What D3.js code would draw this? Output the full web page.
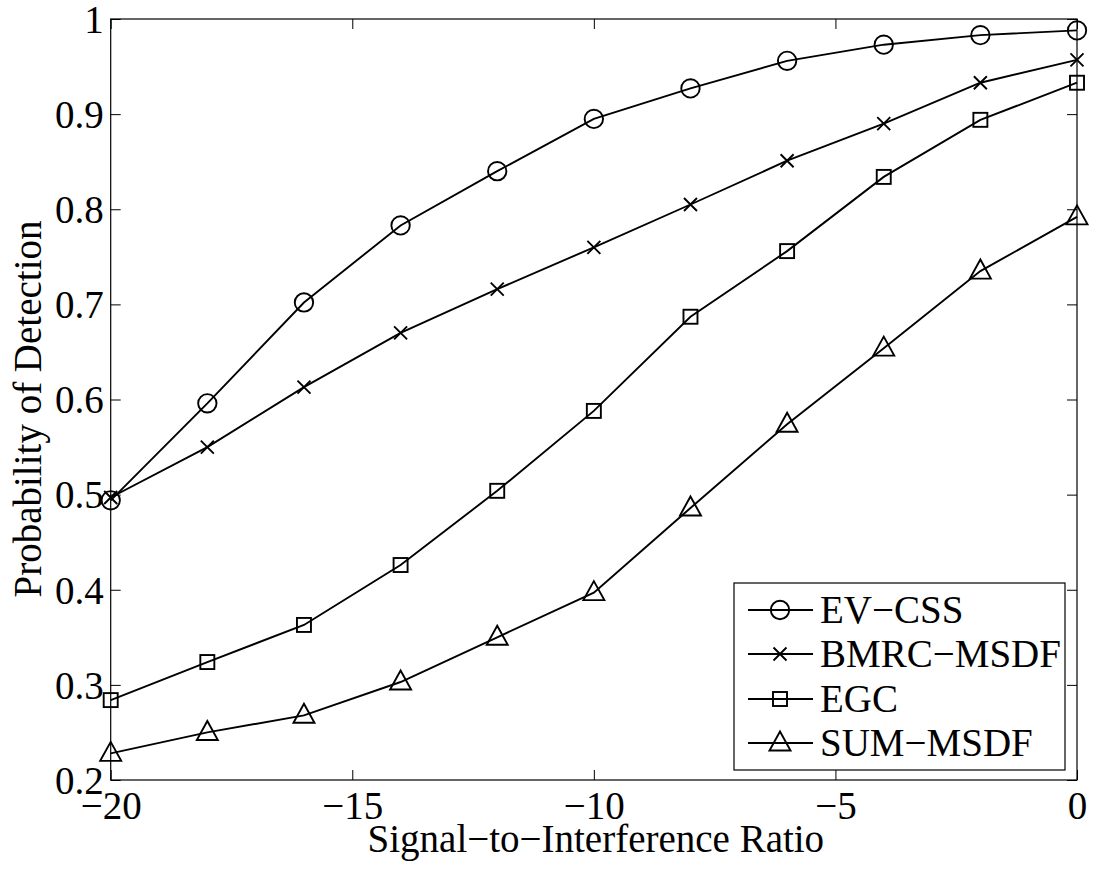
<!DOCTYPE html>
<html>
<head>
<meta charset="utf-8">
<script src="https://cdn.jsdelivr.net/npm/d3@7"></script>
<style>
  html, body { margin: 0; padding: 0; background: #fff; }
  svg { display: block; }
  svg text { font-family: "Liberation Serif", "Times New Roman", Times, "DejaVu Serif", serif; fill: #000; }
</style>
</head>
<body>
<svg id="chart" width="1097" height="870"></svg>
<script>
// Signal-to-interference ratio sample points
const sirValues = [-20, -18, -16, -14, -12, -10, -8, -6, -4, -2, 0];

// Probability of detection for each scheme
const evCss    = [0.494, 0.596, 0.702, 0.783, 0.840, 0.895, 0.927, 0.956, 0.973, 0.983, 0.988];
const bmrcMsdf = [0.497, 0.550, 0.613, 0.670, 0.716, 0.760, 0.805, 0.851, 0.890, 0.933, 0.957];
const egc      = [0.284, 0.324, 0.363, 0.426, 0.504, 0.588, 0.687, 0.756, 0.834, 0.894, 0.933];
const sumMsdf  = [0.228, 0.250, 0.268, 0.303, 0.350, 0.397, 0.486, 0.574, 0.654, 0.735, 0.792];

const seriesNames = ["EV\u2212CSS", "BMRC\u2212MSDF", "EGC", "SUM\u2212MSDF"];
const seriesMarkers = ["circle", "cross", "square", "triangle"];

const xTickValues = [-20, -15, -10, -5, 0];
const xTickLabels = ["\u221220", "\u221215", "\u221210", "\u22125", "0"];
const yTickValues = [0.2, 0.3, 0.4, 0.5, 0.6, 0.7, 0.8, 0.9, 1.0];
const yTickLabels = ["0.2", "0.3", "0.4", "0.5", "0.6", "0.7", "0.8", "0.9", "1"];

const xLabel = "Signal\u2212to\u2212Interference Ratio";
const yLabel = "Probability of Detection";

const series = [evCss, bmrcMsdf, egc, sumMsdf].map((vals, i) => ({
  name: seriesNames[i],
  marker: seriesMarkers[i],
  points: vals.map((v, j) => ({ x: sirValues[j], y: v }))
}));

const svg = d3.select("#chart");
const plotLeft = 110.7, plotRight = 1077, plotTop = 19, plotBottom = 780;
const fontSize = 39;
const fontFamily = '"Liberation Serif", "Times New Roman", Times, "DejaVu Serif", serif';

const x = d3.scaleLinear().domain([-20, 0]).range([plotLeft, plotRight]);
const y = d3.scaleLinear().domain([0.2, 1]).range([plotBottom, plotTop]);

// Axes with inward ticks on all four sides
const tickLen = 10;
const gx = svg.append("g").attr("transform", `translate(0,${plotBottom})`)
  .call(d3.axisBottom(x).tickValues(xTickValues)
    .tickFormat((d, i) => xTickLabels[i])
    .tickSize(-tickLen).tickPadding(11));
const gy = svg.append("g").attr("transform", `translate(${plotLeft},0)`)
  .call(d3.axisLeft(y).tickValues(yTickValues)
    .tickFormat((d, i) => yTickLabels[i])
    .tickSize(-tickLen).tickPadding(7));
const gxTop = svg.append("g").attr("transform", `translate(0,${plotTop})`)
  .call(d3.axisTop(x).tickValues(xTickValues).tickFormat("").tickSize(-tickLen));
const gyRight = svg.append("g").attr("transform", `translate(${plotRight},0)`)
  .call(d3.axisRight(y).tickValues(yTickValues).tickFormat("").tickSize(-tickLen));

[gx, gy, gxTop, gyRight].forEach(g => {
  g.attr("font-family", null).attr("font-size", null);
  g.select(".domain").remove();
  g.selectAll(".tick line").attr("stroke", "#000").attr("stroke-width", 1);
  g.selectAll("text").style("font-size", fontSize + "px")
    .style("font-family", fontFamily).attr("fill", "#000");
});
gy.selectAll("text").attr("dy", "0.34em");

// Plot frame
svg.append("rect")
  .attr("x", plotLeft).attr("y", plotTop)
  .attr("width", plotRight - plotLeft).attr("height", plotBottom - plotTop)
  .attr("fill", "none").attr("stroke", "#000").attr("stroke-width", 1.2);

// Axis titles
svg.append("text")
  .attr("x", (plotLeft + plotRight) / 2 + 2).attr("y", 852)
  .attr("text-anchor", "middle")
  .style("font-size", fontSize + "px").style("font-family", fontFamily)
  .text(xLabel);
svg.append("text")
  .attr("transform", `translate(41,409) rotate(-90)`)
  .attr("text-anchor", "middle")
  .style("font-size", fontSize + "px").style("font-family", fontFamily)
  .text(yLabel);

// Marker drawing
function drawMarker(g, type, cx, cy) {
  const sw = 1.9;
  if (type === "circle") {
    g.append("circle").attr("cx", cx).attr("cy", cy).attr("r", 9.2)
      .attr("fill", "none").attr("stroke", "#000").attr("stroke-width", sw);
  } else if (type === "square") {
    const s = 14;
    g.append("rect").attr("x", cx - s / 2).attr("y", cy - s / 2)
      .attr("width", s).attr("height", s)
      .attr("fill", "none").attr("stroke", "#000").attr("stroke-width", sw);
  } else if (type === "cross") {
    const h = 6.5;
    g.append("path")
      .attr("d", `M${cx - h},${cy - h}L${cx + h},${cy + h}M${cx - h},${cy + h}L${cx + h},${cy - h}`)
      .attr("stroke", "#000").attr("stroke-width", sw).attr("fill", "none");
  } else if (type === "triangle") {
    const w = 10.5, hUp = 11.5, hDown = 7.5;
    g.append("path")
      .attr("d", `M${cx},${cy - hUp}L${cx + w},${cy + hDown}L${cx - w},${cy + hDown}Z`)
      .attr("stroke", "#000").attr("stroke-width", sw).attr("fill", "none")
      .attr("stroke-linejoin", "miter");
  }
}

// Series lines and markers
const line = d3.line().x(d => x(d.x)).y(d => y(d.y));
const plot = svg.append("g");
series.forEach(s => {
  plot.append("path").datum(s.points)
    .attr("d", line).attr("fill", "none")
    .attr("stroke", "#000").attr("stroke-width", 1.9);
  const mg = plot.append("g");
  s.points.forEach(p => drawMarker(mg, s.marker, x(p.x), y(p.y)));
});

// Legend
const legend = svg.append("g");
legend.append("rect")
  .attr("x", 734).attr("y", 583).attr("width", 331).attr("height", 187)
  .attr("fill", "#fff").attr("stroke", "#000").attr("stroke-width", 1.2);
const rowY = [610, 654, 699, 743];
series.forEach((s, i) => {
  const ry = rowY[i];
  legend.append("line").attr("x1", 748).attr("x2", 813)
    .attr("y1", ry).attr("y2", ry)
    .attr("stroke", "#000").attr("stroke-width", 1.9);
  drawMarker(legend, s.marker, 780, ry);
  legend.append("text").attr("x", 820).attr("y", ry + 13)
    .style("font-size", fontSize + "px").style("font-family", fontFamily)
    .text(s.name);
});
</script>
</body>
</html>
